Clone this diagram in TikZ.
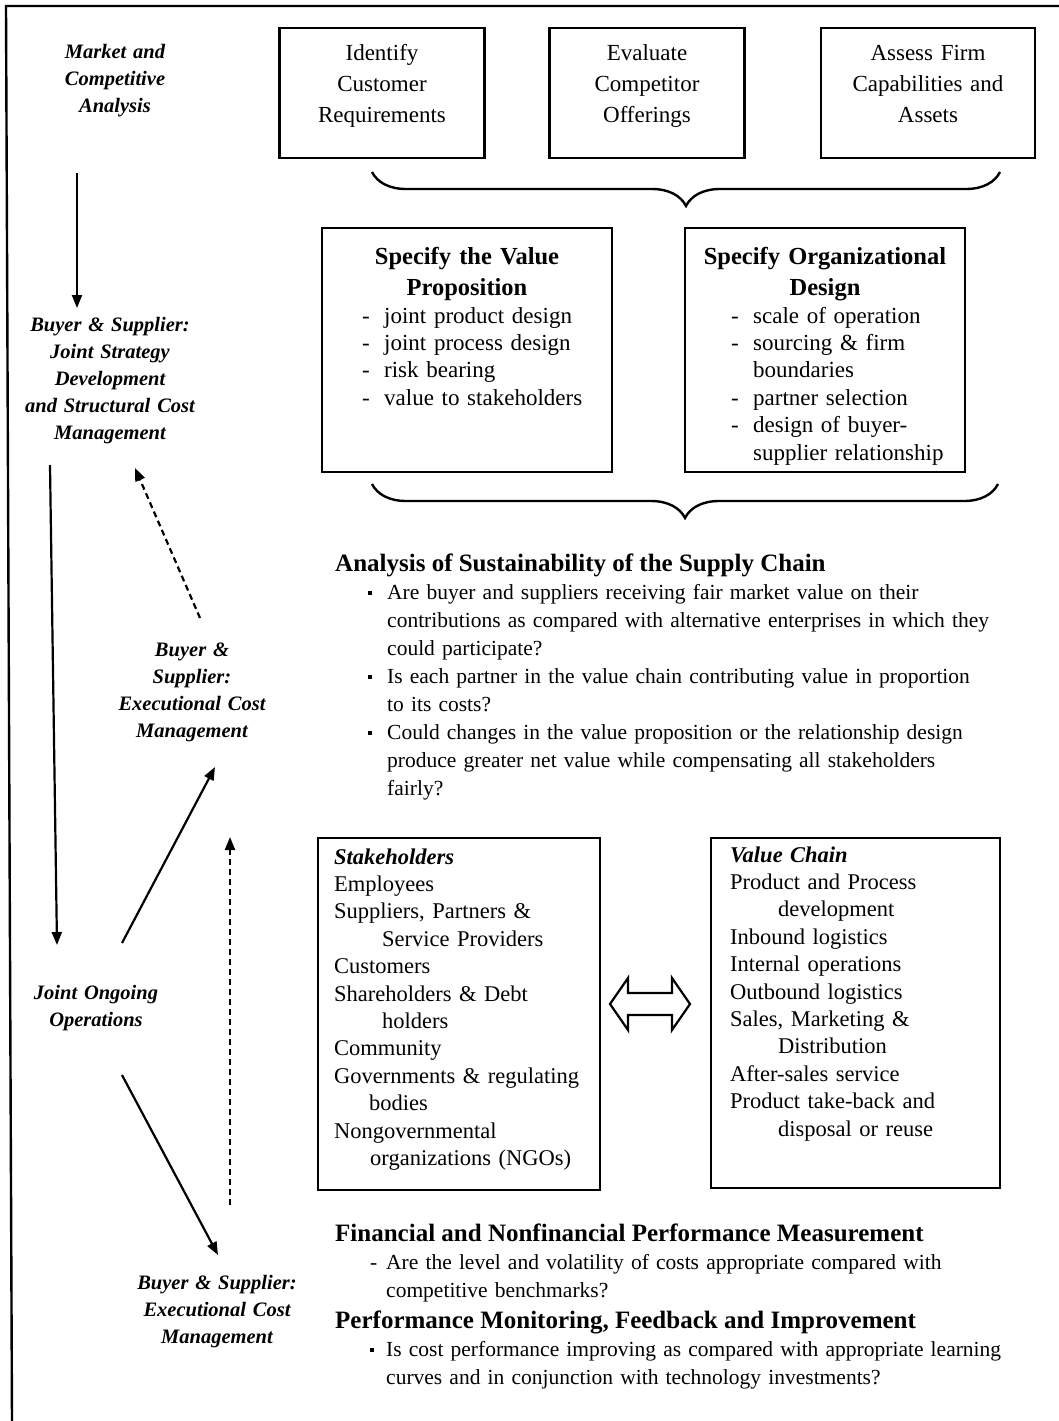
\documentclass[tikz,border=0pt]{standalone}
\usepackage{fontspec}
\setmainfont{Liberation Serif}
\usetikzlibrary{arrows.meta,decorations.pathreplacing}

% list markers
\newcommand\dashmark{\makebox[22pt][l]{-}}
\newcommand\sqmark{\makebox[19pt][l]{\raisebox{4pt}{\rule{4pt}{4pt}}}}
\newcommand\finmark{\makebox[16pt][l]{-}}
\newcommand\perfmark{\makebox[16pt][l]{\raisebox{4pt}{\rule{4pt}{4pt}}}}

\begin{document}
\begin{tikzpicture}[x=1pt,y=-1pt,
  every node/.style={inner sep=0pt},
  lbl/.style={font=\fontsize{20.5}{27}\selectfont\bfseries\itshape, align=center, text width=240pt, anchor=base},
  boxst/.style={draw, line width=2.4pt, inner sep=0pt},
  toptxt/.style={font=\fontsize{23}{31}\selectfont, align=center, text width=200pt, anchor=base},
  midhead/.style={font=\fontsize{24.5}{31}\selectfont\bfseries, align=center, text width=280pt, anchor=base},
  midlist/.style={font=\fontsize{23}{27.4}\selectfont, align=left, text width=260pt, anchor=base west},
  head/.style={font=\fontsize{25}{28}\selectfont\bfseries, anchor=base west},
  body/.style={font=\fontsize{21.5}{28}\selectfont, align=left, text width=680pt, anchor=base west},
  boxlist/.style={font=\fontsize{22.5}{27.4}\selectfont, align=left, text width=270pt, anchor=base west},
  flow/.style={line width=2.2pt, -{Triangle[length=13pt,width=10pt]}},
  dflow/.style={flow, dash pattern=on 6pt off 4pt},
  bracest/.style={decorate, decoration={brace, mirror, amplitude=34pt}, line width=2.4pt},
]
\useasboundingbox[fill=white] (0,0) rectangle (1059,1421);

% outer frame (top and left edges)
\coordinate (ftl) at (6,6);
\coordinate (ftr) at (1059,6);
\coordinate (fbl) at (12,1421);
\draw[line width=2.4pt] (ftr) -- (ftl) -- (fbl);

% left-hand process labels
\node[lbl] (mkt) at (115,59) {Market and\\Competitive\\Analysis};
\node[lbl] (bsjoint) at (110,331) {Buyer \& Supplier:\\Joint Strategy\\Development\\and Structural Cost\\Management};
\node[lbl] (bsexec) at (192,656) {Buyer \&\\Supplier:\\Executional Cost\\Management};
\node[lbl] (ongoing) at (96,999) {Joint Ongoing\\Operations};
\node[lbl] (bsexecb) at (217,1289) {Buyer \& Supplier:\\Executional Cost\\Management};

% arrow end points of the left-hand cycle
\coordinate (mktout) at (77,173);
\coordinate (jointin) at (77,308);
\coordinate (jointout) at (50,465);
\coordinate (opsin) at (57,945);
\coordinate (execfb) at (200,618);
\coordinate (jointfb) at (135,468);
\coordinate (opsup) at (122,943);
\coordinate (execin) at (215,767);
\coordinate (execbfb) at (230,1205);
\coordinate (execfbin) at (230,837);
\coordinate (opsdown) at (122,1075);
\coordinate (execbin) at (218,1255);

\draw[flow] (mktout) -- (jointin);
\draw[flow] (jointout) -- (opsin);
\draw[dflow] (execfb) -- (jointfb);
\draw[flow] (opsup) -- (execin);
\draw[dflow] (execbfb) -- (execfbin);
\draw[flow] (opsdown) -- (execbin);

% market analysis boxes
\node[boxst, minimum width=205pt, minimum height=130pt] (cust) at (382,93) {};
\node[toptxt] (custtxt) at (382,61) {Identify\\Customer\\Requirements};
\node[boxst, minimum width=195pt, minimum height=130pt] (comp) at (647,93) {};
\node[toptxt] (comptxt) at (647,61) {Evaluate\\Competitor\\Offerings};
\node[boxst, minimum width=214pt, minimum height=130pt] (firm) at (928,93) {};
\node[toptxt] (firmtxt) at (928,61) {Assess Firm\\Capabilities and\\Assets};

\coordinate (braceAl) at (372,172);
\coordinate (braceAr) at (1000,172);
\draw[bracest] (braceAl) -- (braceAr);

% strategy boxes
\node[boxst, minimum width=290pt, minimum height=244pt] (vprop) at (467,350) {};
\node[midhead] (vproph) at (467,264) {Specify the Value\\Proposition};
\node[midlist] (vpropl) at (362,323) {\dashmark joint product design\\\dashmark joint process design\\\dashmark risk bearing\\\dashmark value to stakeholders};

\node[boxst, minimum width=280pt, minimum height=244pt] (orgd) at (825,350) {};
\node[midhead] (orgdh) at (825,264) {Specify Organizational\\Design};
\node[midlist] (orgdl) at (731,323) {\dashmark scale of operation\\\dashmark sourcing \& firm\\\hspace*{22pt}boundaries\\\dashmark partner selection\\\dashmark design of buyer-\\\hspace*{22pt}supplier relationship};

\coordinate (braceBl) at (372,484);
\coordinate (braceBr) at (998,484);
\draw[bracest] (braceBl) -- (braceBr);

% sustainability questions
\node[head] (susth) at (335,571) {Analysis of Sustainability of the Supply Chain};
\node[body] (sustl) at (368,599) {\sqmark Are buyer and suppliers receiving fair market value on their\\
\hspace*{19pt}contributions as compared with alternative enterprises in which they\\
\hspace*{19pt}could participate?\\
\sqmark Is each partner in the value chain contributing value in proportion\\
\hspace*{19pt}to its costs?\\
\sqmark Could changes in the value proposition or the relationship design\\
\hspace*{19pt}produce greater net value while compensating all stakeholders\\
\hspace*{19pt}fairly?};

% stakeholders and value chain
\node[boxst, minimum width=282pt, minimum height=352pt] (stake) at (459,1014) {};
\node[boxlist] (stakel) at (334,864) {\textbf{\textit{Stakeholders}}\\Employees\\Suppliers, Partners \&\\\hspace*{48pt}Service Providers\\Customers\\Shareholders \& Debt\\\hspace*{48pt}holders\\Community\\Governments \& regulating\\\hspace*{35pt}bodies\\Nongovernmental\\\hspace*{36pt}organizations (NGOs)};

\node[boxst, minimum width=289pt, minimum height=350pt] (vchain) at (855.5,1013) {};
\node[boxlist] (vchainl) at (730,862) {\textbf{\textit{Value Chain}}\\Product and Process\\\hspace*{48pt}development\\Inbound logistics\\Internal operations\\Outbound logistics\\Sales, Marketing \&\\\hspace*{48pt}Distribution\\After-sales service\\Product take-back and\\\hspace*{48pt}disposal or reuse};

% two-way link between stakeholders and value chain
\draw[line width=2.2pt, line join=miter] (610,1004) -- (628,978) -- (628,993) -- (672,993) -- (672,978) -- (690,1004) -- (672,1030) -- (672,1015) -- (628,1015) -- (628,1030) -- cycle;

% performance measurement
\node[head] (finh) at (335,1241) {Financial and Nonfinancial Performance Measurement};
\node[body] (finl) at (370,1269) {\finmark Are the level and volatility of costs appropriate compared with\\
\hspace*{16pt}competitive benchmarks?};
\node[head] (perfh) at (335,1328) {Performance Monitoring, Feedback and Improvement};
\node[body] (perfl) at (370,1356) {\perfmark Is cost performance improving as compared with appropriate learning\\
\hspace*{16pt}curves and in conjunction with technology investments?};
\end{tikzpicture}
\end{document}
